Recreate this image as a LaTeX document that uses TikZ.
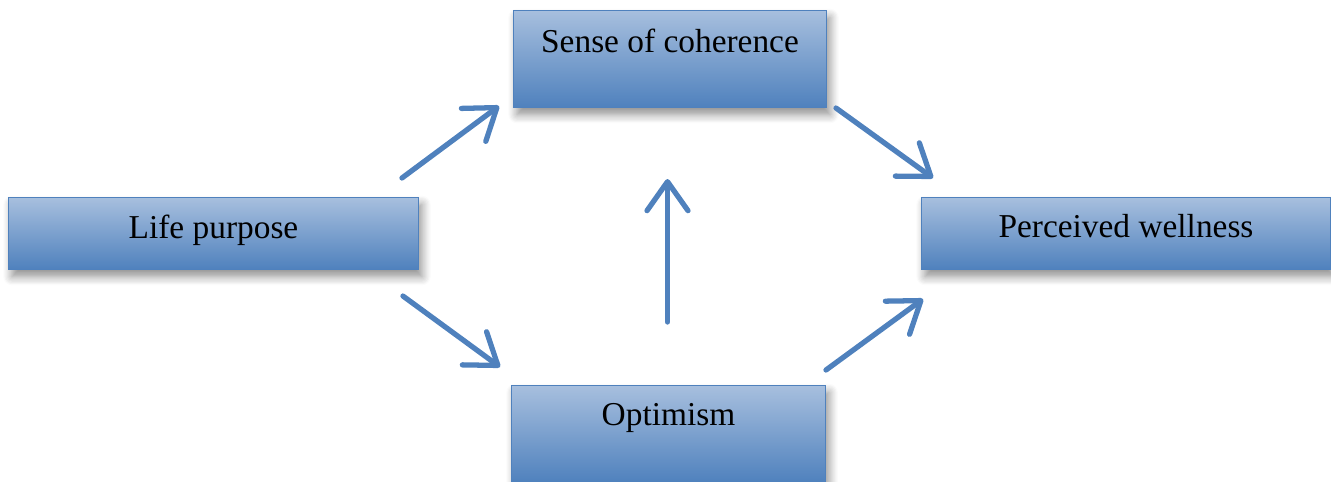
\documentclass[tikz,border=0pt]{standalone}
\usepackage{fontspec}
\setmainfont{Liberation Serif}
\usetikzlibrary{arrows.meta,calc,shadows.blur}
\definecolor{boxtop}{RGB}{167,191,222}
\definecolor{boxmid}{RGB}{140,170,210}
\definecolor{boxbottom}{RGB}{79,129,189}
\definecolor{flowblue}{RGB}{79,129,189}
\tikzset{box/.style={draw=flowblue, line width=0.6pt, inner sep=0pt, anchor=north west,
   top color=boxtop, middle color=boxmid, bottom color=boxbottom,
   font=\fontsize{19}{22}\selectfont,
   blur shadow={shadow xshift=2pt, shadow yshift=-4pt, shadow blur radius=5pt, shadow blur steps=8, shadow opacity=45}},
 flow/.style={draw=flowblue, line width=3pt, line cap=round,
   -{Straight Barb[length=0.58cm, width=0.82cm, line cap=round, line join=round]}},
 }

\begin{document}
\begin{tikzpicture}[x=0.02cm, y=-0.02cm]
        \useasboundingbox (0,0) rectangle (1331,482);
        \node[box, minimum width=6.26cm, text height=0.84cm, text depth=1.1cm] (sense) at (513,10) {Sense of coherence};
        \node[box, minimum width=8.2cm, text height=0.82cm, text depth=0.62cm] (life) at (8,197) {Life purpose};
        \node[box, minimum width=8.18cm, text height=0.8cm, text depth=0.64cm] (wellness) at (921,197) {Perceived wellness};
        \node[box, minimum width=6.28cm, text height=0.8cm, text depth=1.14cm] (optimism) at (511,385) {Optimism};
        \draw[flow] ($(life.north east)+(-17,-19)$) -- ($(sense.south west)+(-14,-2)$);
        \draw[flow] ($(life.south east)+(-16,26)$) -- ($(optimism.north west)+(-11,-18)$);
        \draw[flow] ($(sense.south east)+(9,0)$) -- ($(wellness.north west)+(12,-19)$);
        \draw[flow] ($(optimism.north east)+(0,-15)$) -- ($(wellness.south west)+(2,29)$);
        \draw[flow] ($(optimism.north)+(-1,-63)$) -- ($(sense.south)+(-2.5,71)$);
    \end{tikzpicture}
\end{document}
